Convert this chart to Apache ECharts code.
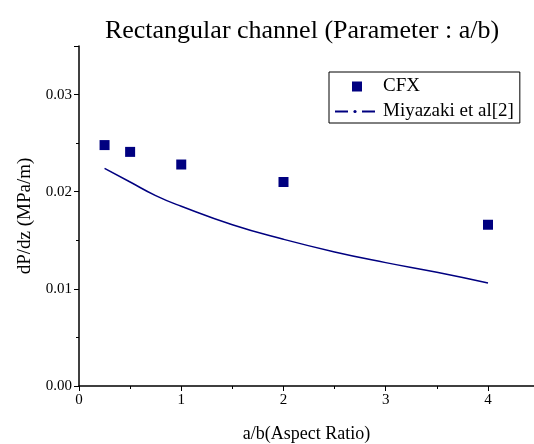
<!DOCTYPE html>
<html>
<head>
<meta charset="utf-8">
<script src="https://cdn.jsdelivr.net/npm/echarts@6/dist/echarts.min.js"></script>
<style>
  html, body { margin: 0; padding: 0; background: #fff; }
  #main { width: 534px; height: 444px; }
</style>
</head>
<body>
<div id="main"></div>
<script>
// data
const cfxX = [0.25, 0.5, 1, 2, 4];
const cfxY = [0.0248, 0.0241, 0.0228, 0.0210, 0.0166];
const miyaX = [0.25, 0.5, 0.75, 1, 1.5, 2, 2.5, 3, 3.5, 4];
const miyaY = [0.0224, 0.0210, 0.0196, 0.0185, 0.0166, 0.0151, 0.0138, 0.0127, 0.0117, 0.0106];

const navy = '#000080';
const font = 'Liberation Serif';

// legend icons: centred square, and a dash-dot line
const iconSquare = 'image://data:image/svg+xml;utf8,' + encodeURIComponent(
  '<svg xmlns="http://www.w3.org/2000/svg" width="40" height="12"><rect x="17" y="1" width="10" height="10" fill="#000080"/></svg>');
const iconLine = 'image://data:image/svg+xml;utf8,' + encodeURIComponent(
  '<svg xmlns="http://www.w3.org/2000/svg" width="40" height="12"><line x1="0" y1="6" x2="13" y2="6" stroke="#000080" stroke-width="2"/><circle cx="20" cy="6" r="1.6" fill="#000080"/><line x1="27" y1="6" x2="40" y2="6" stroke="#000080" stroke-width="2"/></svg>');

let myChart = echarts.init(document.getElementById('main'));
myChart.setOption({
  animation: false,
  backgroundColor: '#fff',
  title: {
    text: 'Rectangular channel (Parameter : a/b)',
    left: 297,
    textAlign: 'center',
    top: 13,
    textStyle: { fontFamily: font, fontSize: 26, fontWeight: 'normal', color: '#000' }
  },
  legend: {
    orient: 'vertical',
    left: 329,
    top: 72,
    padding: [5, 6, 2, 6],
    borderColor: '#000',
    borderWidth: 1,
    itemWidth: 40,
    itemHeight: 12,
    itemGap: 6,
    textStyle: { fontFamily: font, fontSize: 19, color: '#000', padding: [0, 0, 0, 3] },
    data: [
      { name: 'CFX', icon: iconSquare },
      { name: 'Miyazaki et al[2]', icon: iconLine }
    ]
  },
  grid: { left: 79, right: 0, top: 46, bottom: 58, outerBoundsMode: 'none' },
  xAxis: {
    type: 'value',
    min: 0,
    max: 4.45,
    interval: 1,
    name: 'a/b(Aspect Ratio)',
    nameLocation: 'middle',
    nameGap: 39,
    nameTextStyle: { fontFamily: font, fontSize: 18, color: '#000' },
    axisLine: { onZero: false, lineStyle: { color: '#000', width: 1.5 } },
    axisTick: { inside: false, length: 5, lineStyle: { color: '#000' } },
    minorTick: { show: true, splitNumber: 2, length: 3, lineStyle: { color: '#000' } },
    axisLabel: {
      fontFamily: font, fontSize: 15, color: '#000', margin: 7,
      formatter: v => (v > 4 ? '' : String(v))
    },
    splitLine: { show: false }
  },
  yAxis: {
    type: 'value',
    min: 0,
    max: 0.035,
    interval: 0.01,
    name: 'dP/dz (MPa/m)',
    nameLocation: 'middle',
    nameGap: 41,
    nameTextStyle: { fontFamily: font, fontSize: 19, color: '#000' },
    axisLine: { onZero: false, lineStyle: { color: '#000', width: 1.5 } },
    axisTick: { inside: false, length: 5, lineStyle: { color: '#000' } },
    minorTick: { show: true, splitNumber: 2, length: 3, lineStyle: { color: '#000' } },
    axisLabel: {
      fontFamily: font, fontSize: 15, color: '#000', margin: 7,
      formatter: v => (v > 0.031 ? '' : v.toFixed(2))
    },
    splitLine: { show: false }
  },
  series: [
    {
      name: 'CFX',
      type: 'scatter',
      symbol: 'rect',
      symbolSize: 10,
      itemStyle: { color: navy, opacity: 1 },
      data: cfxX.map((x, i) => [x, cfxY[i]]),
      z: 3
    },
    {
      name: 'Miyazaki et al[2]',
      type: 'line',
      smooth: true,
      showSymbol: false,
      symbol: 'none',
      lineStyle: { color: navy, width: 1.5 },
      itemStyle: { color: navy },
      data: miyaX.map((x, i) => [x, miyaY[i]])
    }
  ]
});
</script>
</body>
</html>
